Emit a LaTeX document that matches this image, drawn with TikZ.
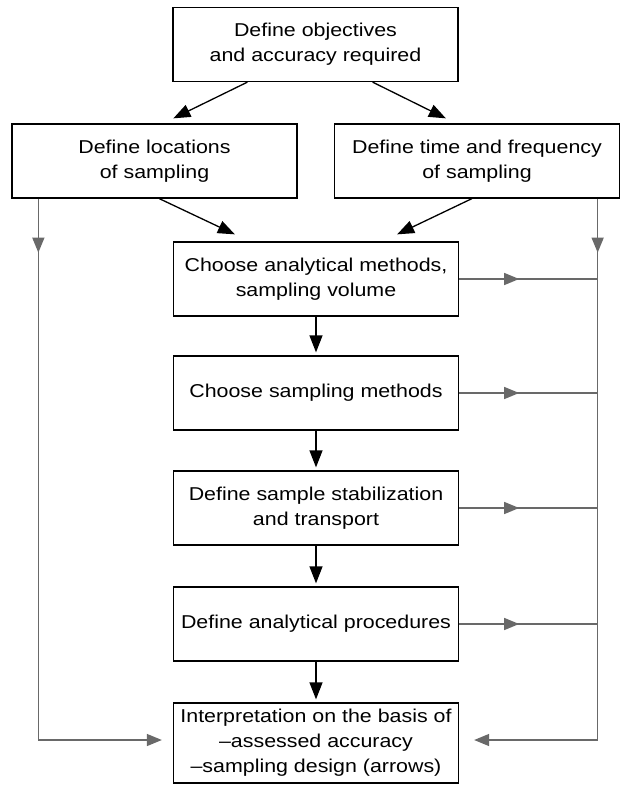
\documentclass[tikz,border=0pt]{standalone}
\usepackage{fontspec}
\setmainfont{Liberation Sans}[FakeStretch=1.15]
\usetikzlibrary{arrows.meta,decorations.markings}

\definecolor{feedgray}{RGB}{105,105,105}

\tikzset{
    box/.style={draw, line width=1.3pt, minimum width=285pt, minimum height=74pt,
        inner sep=2pt, align=center, font=\fontsize{18.6}{25}\selectfont},
    flow/.style={-{Triangle[length=17pt,width=13pt]}, line width=1.3pt},
    feed/.style={color=feedgray, line width=1.4pt},
    feedend/.style={feed, -{Triangle[length=15pt,width=12pt]}},
    midtip/.style={postaction={decorate}, decoration={markings,
        mark=at position #1 with {\arrow{Triangle[length=15pt,width=12pt]}}}}
}

\begin{document}
\begin{tikzpicture}[x=1pt, y=-1pt]

    \useasboundingbox (0,0) rectangle (619,785);

    % -- Top part: objectives, locations, time --
    \node[box] (obj)  at (315.5,44.5) {Define objectives\\and accuracy required};
    \node[box] (loc)  at (154.5,161)  {Define locations\\of sampling};
    \node[box] (time) at (477,161)    {Define time and frequency\\of sampling};

    % -- Central column --
    \node[box] (anal)   at (316,279)   {Choose analytical methods,\\sampling volume};
    \node[box] (samp)   at (316,393)   {Choose sampling methods};
    \node[box] (stab)   at (316,508)   {Define sample stabilization\\and transport};
    \node[box] (proc)   at (316,624)   {Define analytical procedures};
    \node[box, minimum height=80pt] (interp) at (316,743)
        {Interpretation on the basis of\\\textendash assessed accuracy\\\textendash sampling design (arrows)};

    % black arrows
    \draw[flow] ([xshift=75pt]obj.south west) -- ([xshift=162pt,yshift=5pt]loc.north west);
    \draw[flow] ([xshift=-86pt]obj.south east) -- ([xshift=112pt,yshift=5pt]time.north west);
    \draw[flow] ([xshift=148pt]loc.south west) -- ([xshift=62pt,yshift=7pt]anal.north west);
    \draw[flow] ([xshift=138pt]time.south west) -- ([xshift=-62pt,yshift=7pt]anal.north east);

    \draw[flow, shorten >=3pt] (anal.south) -- (samp.north);
    \draw[flow, shorten >=3pt] (samp.south) -- (stab.north);
    \draw[flow, shorten >=3pt] (stab.south) -- (proc.north);
    \draw[flow, shorten >=3pt] (proc.south) -- (interp.north);

    % -- Gray side lines --
    \coordinate (lstart) at ([xshift=27pt]loc.south west);
    \coordinate (rstart) at ([xshift=-22.5pt]time.south east);

    \draw[feedend, midtip=54pt] (lstart) |- ([xshift=-11pt,yshift=3pt]interp.west);
    \draw[feedend, midtip=54pt] (rstart) |- ([xshift=15pt,yshift=3pt]interp.east);

    \draw[feed, midtip=60pt] (anal.east) -- (anal.east -| rstart);
    \draw[feed, midtip=60pt] (samp.east) -- (samp.east -| rstart);
    \draw[feed, midtip=60pt] (stab.east) -- (stab.east -| rstart);
    \draw[feed, midtip=60pt] (proc.east) -- (proc.east -| rstart);
\end{tikzpicture}
\end{document}
